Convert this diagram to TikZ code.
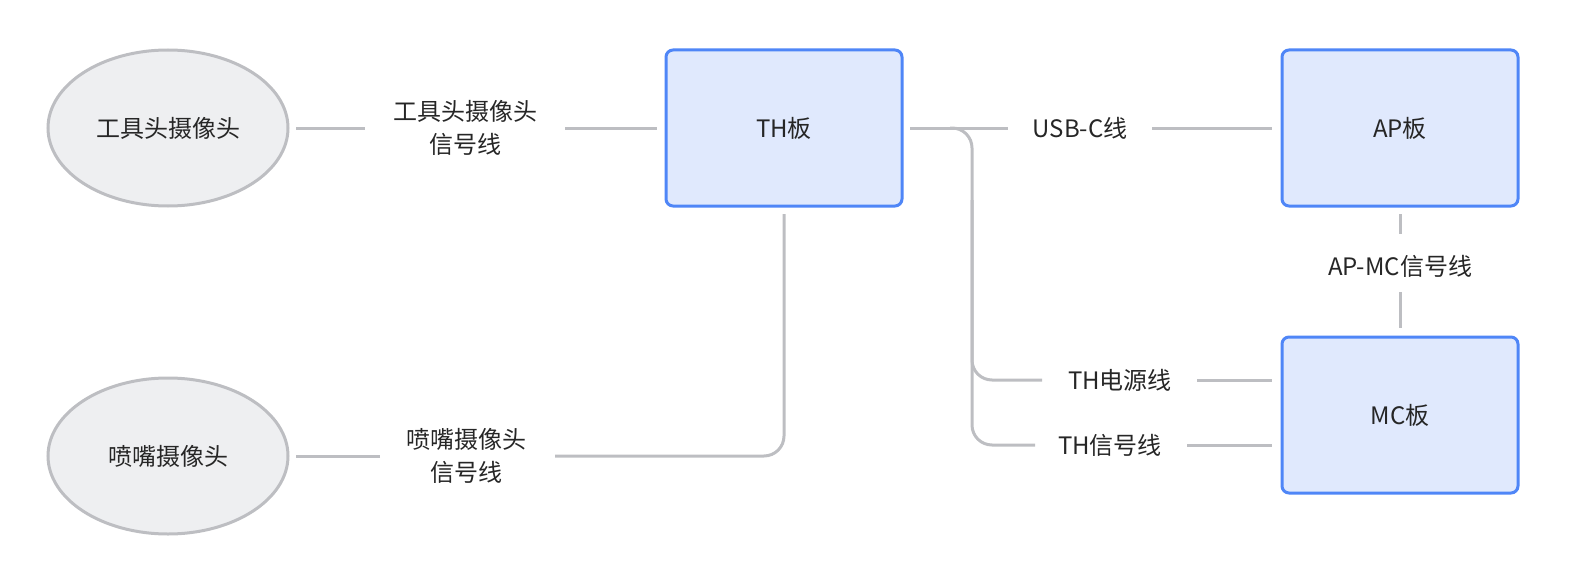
\documentclass[tikz,border=0pt]{standalone}
\usepackage{fontspec}
\usetikzlibrary{shapes.geometric}
\setmainfont{Noto Sans CJK SC}
\definecolor{bfill}{HTML}{E0E9FD}
\definecolor{bline}{HTML}{4F86F7}
\definecolor{efill}{HTML}{EEEFF1}
\definecolor{eline}{HTML}{BDBEC2}
\definecolor{txt}{HTML}{262626}
\begin{document}
\begin{tikzpicture}[x=1pt,y=-1pt,
  board/.style={draw=bline,fill=bfill,line width=3pt,rounded corners=7pt,minimum width=236pt,minimum height=156pt,text=txt,font=\fontsize{24}{28}\selectfont},
  cam/.style={ellipse,draw=eline,fill=efill,line width=3pt,minimum width=240pt,minimum height=156pt,text=txt,font=\fontsize{24}{28}\selectfont},
  lbl/.style={font=\fontsize{24}{33}\selectfont,text=txt,align=center,inner sep=0pt},
  wire/.style={draw=eline,line width=3pt,rounded corners=20pt}]
\useasboundingbox (0,0) rectangle (1572,586);
\node[cam] (c1) at (168,128) {工具头摄像头};
\node[cam] (c2) at (168,456) {喷嘴摄像头};
\node[board] (th) at (784,128) {TH板};
\node[board] (ap) at (1400,128) {AP板};
\node[board] (mc) at (1400,415) {MC板};
\node[lbl] (l1) at (465,128) {工具头摄像头\\信号线};
\node[lbl] (l2) at (466,456) {喷嘴摄像头\\信号线};
\node[lbl] (l3) at (1080,128) {USB-C线};
\node[lbl] (l4) at (1400,266) {AP-MC信号线};
\node[lbl] (l5) at (1120,380) {TH电源线};
\node[lbl] (l6) at (1110,445) {TH信号线};
\path[wire] (296,128) -- (365,128) (565,128) -- (657,128);
\path[wire] (910,128) -- (1008,128) (1152,128) -- (1272,128);
\path[wire] (950,128) -- (972,128) -- (972,380) -- (1042,380);
\path[wire] (972,200) -- (972,445) -- (1035,445);
\path[wire] (1197,380) -- (1272,380) (1187,445) -- (1272,445);
\path[wire] (1400,214) -- (1400,234) (1400,292) -- (1400,328);
\path[wire] (784,214) -- (784,456) -- (555,456);
\path[wire] (380,456) -- (296,456);
\end{tikzpicture}
\end{document}
